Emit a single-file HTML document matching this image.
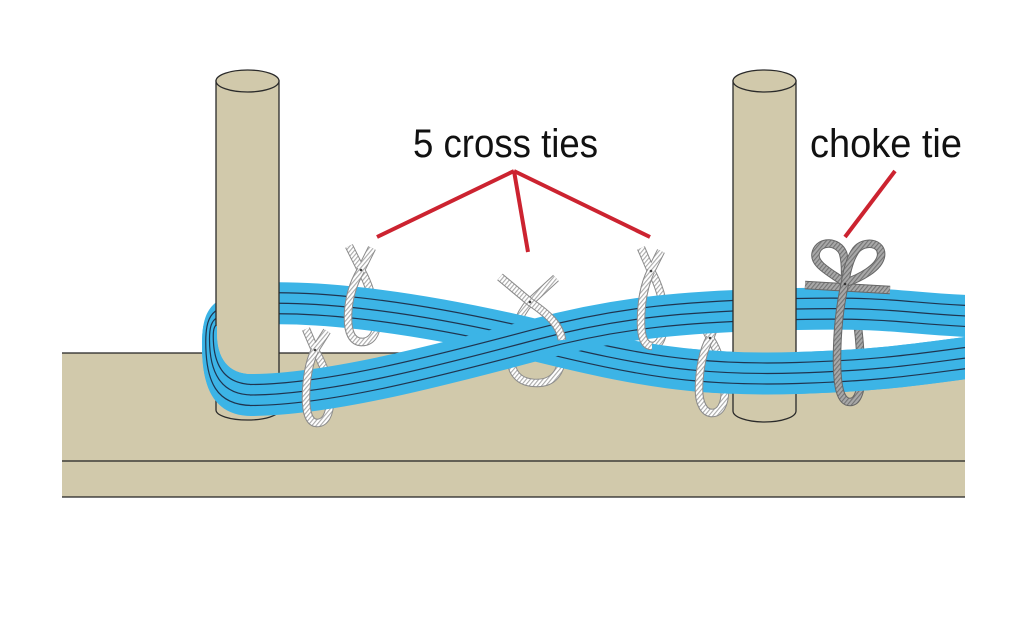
<!DOCTYPE html>
<html><head><meta charset="utf-8"><style>html,body{margin:0;padding:0;background:#fff}svg{display:block}</style></head>
<body>
<svg width="1024" height="631" viewBox="0 0 1024 631" xmlns="http://www.w3.org/2000/svg" xmlns:xlink="http://www.w3.org/1999/xlink">
<style>
.c1{fill:none;stroke:#3cb4e6;stroke-width:42}
.c2{fill:none;stroke:#1f3550;stroke-width:22.2}
.c3{fill:none;stroke:#3cb4e6;stroke-width:19.8}
.c4{fill:none;stroke:#1f3550;stroke-width:1.2}
.ln{fill:none;stroke:#1f3550;stroke-width:1.2}
.r1{fill:none;stroke:#8c8c8c;stroke-width:8.5}
.r2{fill:none;stroke:url(#hw);stroke-width:6.5}
.g1{fill:none;stroke:#666;stroke-width:8.5}
.g2{fill:none;stroke:url(#hg);stroke-width:6.5}
.post{fill:#d1c9ab;stroke:#2a2a2a;stroke-width:1.3}
.red{stroke:#cc2330;stroke-width:4;fill:none}
</style>
<defs>
<pattern id="hw" width="3.2" height="3.2" patternUnits="userSpaceOnUse" patternTransform="rotate(40)">
  <rect width="3.2" height="3.2" fill="#fff"/><rect width="1.1" height="3.2" fill="#a9a9a9"/>
</pattern>
<pattern id="hg" width="3.2" height="3.2" patternUnits="userSpaceOnUse" patternTransform="rotate(40)">
  <rect width="3.2" height="3.2" fill="#a8a8a8"/><rect width="1.1" height="3.2" fill="#747474"/>
</pattern>
<path id="A" d="M240,305 C300,299 400,308 535,340 C640,366 700,376 797,373 S930,362 990,355"/>
<path id="B" d="M250,395 C325,395 430,368 535,340 C620,317 690,311 797,309 S900,314 990,317"/>
<g id="SA"><use xlink:href="#A" class="c1"/><use xlink:href="#A" class="c2"/><use xlink:href="#A" class="c3"/><use xlink:href="#A" class="c4"/></g>
<g id="SB"><use xlink:href="#B" class="c1"/><use xlink:href="#B" class="c2"/><use xlink:href="#B" class="c3"/><use xlink:href="#B" class="c4"/></g>
<g id="LOOP">
  <path fill="#3cb4e6" d="M252,296 C232,296 220,298 213,305 C205,313 202,325 202,345 C202,385 212,416 252,416 L252,374 C228,374 217,358 217,333 C217,329 218,328 222,330 C228,333 240,340 252,340 Z"/>
  <path class="ln" d="M250,307 C234,307 222,306.75 215.25,311.25 C208.25,316.75 205.75,326 205.75,342 C205.75,381.25 216,405.25 252,405.5"/>
  <path class="ln" d="M250,318 C236,318 224,315.5 217.5,317.5 C211.5,320.5 209.5,327 209.5,339 C209.5,371.5 220,394.5 252,395"/>
  <path class="ln" d="M250,329 C238,329 226,324.25 219.75,323.75 C214.75,324.25 213.25,328 213.25,336 C213.25,364.75 224,383.75 252,384.5"/>
</g>

<!-- rope paths -->
<path id="t1" d="M349,246 L361,270 C368,282 374,300 376,320 C378,335 370,342 362,342 C352,342 348,332 348,318 C348,300 352,285 361,270 L372,248"/>
<path id="t1f" d="M361,270 C352,285 348,300 348,318 C348,332 352,342 362,342"/>
<path id="t2" d="M306,329 L315,350 C322,362 330,380 330,400 C330,415 325,423 317,423 C309,423 306,412 306,398 C306,380 309,362 315,350 L327,331"/>
<path id="t2f" d="M315,350 C309,362 306,380 306,398 C306,412 309,423 317,423"/>
<path id="t3" d="M500,277 L530,302 C548,314 560,325 562,345 C564,365 558,383 537,383 C518,383 510,372 511,355 C512,335 518,315 530,302 L556,278"/>
<path id="t3f" d="M500,277 L530,302 C548,314 560,325 562,340"/>
<path id="t4" d="M641,248 L651,271 C658,283 664,300 664,318 C664,336 660,346 652,346 C644,346 641,336 641,322 C641,300 645,283 651,271 L661,251"/>
<path id="t4f" d="M651,271 C645,283 641,300 641,322 C641,336 644,346 652,346"/>
<path id="t5" d="M698,314 L710,338 C718,350 725,370 725,390 C725,405 720,413 712,413 C704,413 699,403 699,390 C699,370 703,350 710,338 L718,318"/>
<path id="t5f" d="M710,338 C703,350 699,370 699,390 C699,403 704,413 712,413"/>
<path id="ck" d="M850,402 C858,402 862,390 861,370 C860,340 858,310 846,285"/>
<path id="ckf" d="M845,283 C840,305 837,330 837,360 C837,385 840,402 850,402"/>
<path id="ckb" d="M805,285 L890,290"/>
<path id="ckl" d="M845,283 C830,272 812,264 816,252 C820,240 838,241 843,253 C846,263 845,275 845,283"/>
<path id="ckr" d="M845,283 C847,270 850,258 856,250 C864,240 883,242 881,256 C879,268 860,278 845,283"/>

<clipPath id="cAll"><rect x="0" y="0" width="965" height="631"/></clipPath>
<clipPath id="cLF"><path d="M195,326 L217,326 L217,333 C217,358 228,374 252,374 L253,374 L253,436 L195,436 Z"/></clipPath>
<clipPath id="cAR"><rect x="690" y="0" width="275" height="631"/></clipPath>
</defs>

<rect width="1024" height="631" fill="#fff"/>

<!-- table -->
<rect x="62" y="353" width="903" height="144" fill="#d1c9ab"/>
<line x1="62" y1="353" x2="965" y2="353" stroke="#222" stroke-width="1.3"/>
<line x1="62" y1="461" x2="965" y2="461" stroke="#222" stroke-width="1.3"/>
<line x1="62" y1="497" x2="965" y2="497" stroke="#222" stroke-width="1.3"/>

<!-- rope back parts -->
<g>
<use xlink:href="#t1" class="r1"/><use xlink:href="#t1" class="r2"/>
<use xlink:href="#t2" class="r1"/><use xlink:href="#t2" class="r2"/>
<use xlink:href="#t3" class="r1"/><use xlink:href="#t3" class="r2"/>
<use xlink:href="#t4" class="r1"/><use xlink:href="#t4" class="r2"/>
<use xlink:href="#t5" class="r1"/><use xlink:href="#t5" class="r2"/>
<use xlink:href="#ck" class="g1"/><use xlink:href="#ck" class="g2"/>
</g>

<g clip-path="url(#cAll)">
  <!-- loop behind left post -->
  <use xlink:href="#LOOP"/>
  <!-- strand A -->
  <use xlink:href="#SA"/>
  <!-- left post -->
  <path class="post" d="M216,81 L216,410 A31.5,10 0 0 0 279,410 L279,81 Z"/>
  <ellipse class="post" cx="247.5" cy="81" rx="31.5" ry="11"/>
  <!-- loop in front -->
  <g clip-path="url(#cLF)"><use xlink:href="#LOOP"/></g>
  <!-- strand B -->
  <use xlink:href="#SB"/>
  <!-- right post -->
  <path class="post" d="M733,81 L733,411 A31.5,11 0 0 0 796,411 L796,81 Z"/>
  <ellipse class="post" cx="764.5" cy="81" rx="31.5" ry="11"/>
  <!-- strand A in front of right post -->
  <g clip-path="url(#cAR)"><use xlink:href="#SA"/></g>
</g>

<!-- rope front parts -->
<g>
<use xlink:href="#t1f" class="r1"/><use xlink:href="#t1f" class="r2"/>
<use xlink:href="#t2f" class="r1"/><use xlink:href="#t2f" class="r2"/>
<use xlink:href="#t3f" class="r1"/><use xlink:href="#t3f" class="r2"/>
<use xlink:href="#t4f" class="r1"/><use xlink:href="#t4f" class="r2"/>
<use xlink:href="#t5f" class="r1"/><use xlink:href="#t5f" class="r2"/>
<use xlink:href="#ckb" class="g1"/><use xlink:href="#ckb" class="g2"/>
<use xlink:href="#ckl" class="g1"/><use xlink:href="#ckl" class="g2"/>
<use xlink:href="#ckr" class="g1"/><use xlink:href="#ckr" class="g2"/>
<use xlink:href="#ckf" class="g1"/><use xlink:href="#ckf" class="g2"/>
<circle cx="361" cy="270" r="1.3" fill="#444"/>
<circle cx="315" cy="350" r="1.3" fill="#444"/>
<circle cx="530" cy="302" r="1.3" fill="#444"/>
<circle cx="651" cy="271" r="1.3" fill="#444"/>
<circle cx="710" cy="338" r="1.3" fill="#444"/>
<circle cx="845" cy="284" r="1.3" fill="#333"/>
</g>

<!-- red leader lines -->
<line class="red" x1="514" y1="171" x2="377" y2="237"/>
<line class="red" x1="514" y1="171" x2="528" y2="252"/>
<line class="red" x1="514" y1="171" x2="650" y2="237"/>
<line class="red" x1="895" y1="171" x2="845" y2="237"/>

<!-- labels -->
<text x="413" y="157" font-family="'Liberation Sans', sans-serif" font-size="40" fill="#111" textLength="185" lengthAdjust="spacingAndGlyphs">5 cross ties</text>
<text x="810" y="157" font-family="'Liberation Sans', sans-serif" font-size="40" fill="#111" textLength="152" lengthAdjust="spacingAndGlyphs">choke tie</text>
</svg>
</body></html>
